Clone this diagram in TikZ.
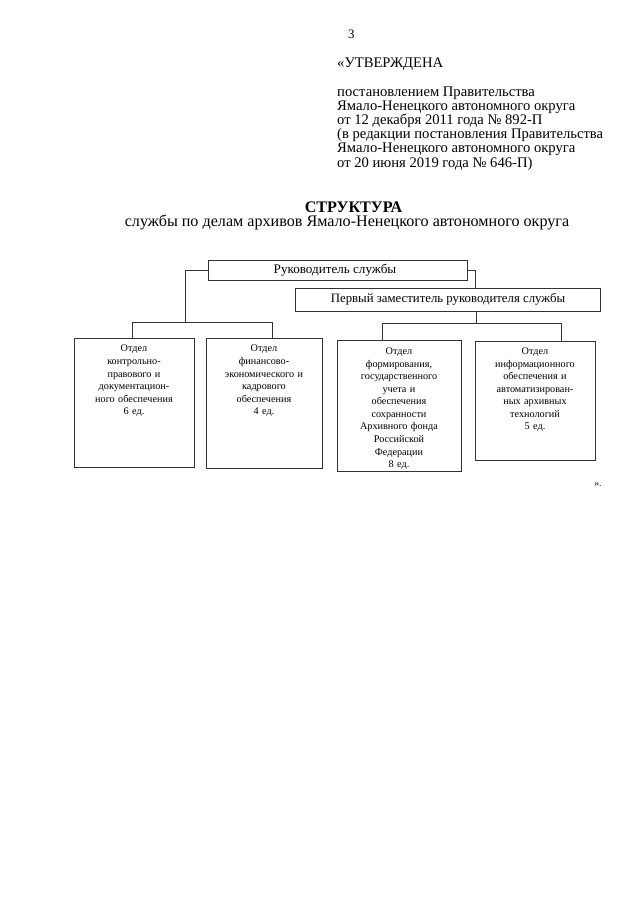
\documentclass[tikz,border=0pt]{standalone}
\usepackage{fontspec}
\setmainfont{Liberation Serif}
\newcommand\myhdrfont{\fontsize{13.6}{13.2}\selectfont\lineskiplimit=-5pt\relax}
\begin{document}
\begin{tikzpicture}[x=0.9302pt,y=-0.9302pt,
  line/.style={draw=black!80,line width=0.7pt},
  box/.style={draw=black!80,line width=0.8pt},
  hdr/.style={font=\myhdrfont,inner sep=0pt,anchor=base west,align=left},
  btxt/.style={font=\fontsize{9.5}{11.7}\selectfont,inner sep=0pt,anchor=north,align=center},
  htxt/.style={font=\fontsize{12.2}{13}\selectfont,inner sep=0pt}]
\useasboundingbox[fill=white] (0,0) rectangle (640,905);
% header
\node[hdr,font=\fontsize{12}{13}\selectfont] (pg) at (348,39) {3};
\node[hdr] (appr) at (337,68) {«УТВЕРЖДЕНА};
\node[hdr] (decree) at (337,167) {постановлением Правительства\\
Ямало-Ненецкого автономного округа\\
от 12 декабря 2011 года № 892-П\\
(в редакции постановления Правительства\\
Ямало-Ненецкого автономного округа\\
от 20 июня 2019 года № 646-П)};
% title
\node[inner sep=0pt,font=\fontsize{15}{16}\selectfont\bfseries,anchor=base] (title) at (353.5,212) {СТРУКТУРА};
\node[inner sep=0pt,font=\fontsize{15}{16}\selectfont,anchor=base] (subtitle) at (347,226.5) {службы по делам архивов Ямало-Ненецкого автономного округа};
% head boxes
\draw[box] (208,260) rectangle (467,280);
\node[htxt] (head) at (335,270) {Руководитель службы};
\coordinate (headW) at (208,270);
\coordinate (headE) at (467,270);
\draw[box] (295,288) rectangle (600,311);
\node[htxt,font=\fontsize{11.9}{13}\selectfont] (dep) at (448,299.5) {Первый заместитель руководителя службы};
\coordinate (depN) at (475,288);
\coordinate (depS) at (476,311);
% department boxes
\draw[box] (74,338) rectangle (194,467);
\draw[box] (206,338) rectangle (322,468);
\draw[box] (337,340) rectangle (461,471);
\draw[box] (475,341) rectangle (595,460);
\coordinate (b1N) at (132,338);
\coordinate (b2N) at (272,338);
\coordinate (b3N) at (382,340);
\coordinate (b4N) at (561,341);
\node[btxt,text width=118] (b1) at (134,345) {Отдел\\ контрольно-\\ правового и\\ документацион-\\ ного обеспечения\\ 6 ед.};
\node[btxt,text width=114] (b2) at (264,345) {Отдел\\ финансово-\\ экономического и\\ кадрового\\ обеспечения\\ 4 ед.};
\node[btxt,text width=122] (b3) at (399,347.5) {Отдел\\ формирования,\\ государственного\\ учета и\\ обеспечения\\ сохранности\\ Архивного фонда\\ Российской\\ Федерации\\ 8 ед.};
\node[btxt,text width=118] (b4) at (535,347.5) {Отдел\\ информационного\\ обеспечения и\\ автоматизирован-\\ ных архивных\\ технологий\\ 5 ед.};
% connectors
\draw[line] (headW) -- (185,270) -- (185,322);
\draw[line] (b1N) -- (132,322) -- (272,322) -- (b2N);
\draw[line] (headE) -- (475,270) -- (depN);
\draw[line] (depS) -- (476,323);
\draw[line] (b3N) -- (382,323) -- (561,323) -- (b4N);
\node[inner sep=0pt,font=\fontsize{9}{10}\selectfont,anchor=base] (end) at (598,486) {».};
\end{tikzpicture}
\end{document}
